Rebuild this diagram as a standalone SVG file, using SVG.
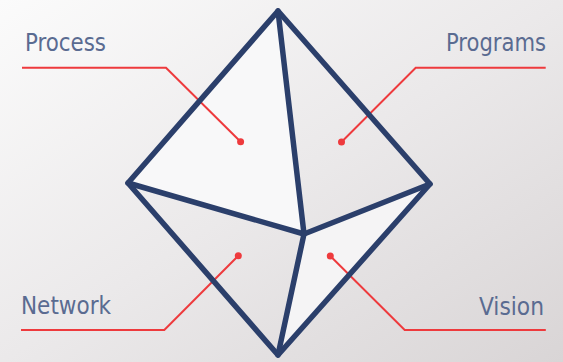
<svg xmlns="http://www.w3.org/2000/svg" width="563" height="362" viewBox="0 0 563 362">
<defs>
<linearGradient id="bg" x1="0" y1="0" x2="1" y2="1">
<stop offset="0" stop-color="#fbfbfb"/>
<stop offset="0.5" stop-color="#ebe9ea"/>
<stop offset="1" stop-color="#d9d5d6"/>
</linearGradient>
<style>
.edge{fill:none;stroke:#2b3f6b;stroke-width:5.5;stroke-linejoin:round;stroke-linecap:round}
.lead{fill:none;stroke:#ee3a3d;stroke-width:2}
.dot{fill:#ee3a3d}
.lbl{font-family:"Liberation Sans Narrow","DejaVu Sans Condensed","Liberation Sans",sans-serif;font-size:25px;fill:#5a6b91}
</style>
</defs>
<rect width="563" height="362" fill="url(#bg)"/>
<g id="faces">
<polygon points="278,11 128,183 304,234" fill="#f8f8f9"/>
<polygon points="304,234 430,184 278,355" fill="#f5f4f5"/>
</g>
<g id="connectors">
<polyline class="lead" points="22,67.7 166,67.7 240.6,141.7"/>
<polyline class="lead" points="545.7,67.7 415.7,67.7 341.5,142"/>
<polyline class="lead" points="21,330 164.3,330 238.3,255.7"/>
<polyline class="lead" points="545.8,330 404.7,330 330.3,256"/>
<circle class="dot" cx="240.6" cy="141.7" r="3.5"/>
<circle class="dot" cx="341.5" cy="142" r="3.5"/>
<circle class="dot" cx="238.3" cy="255.7" r="3.5"/>
<circle class="dot" cx="330.3" cy="256" r="3.5"/>
</g>
<g id="shape">
<polygon class="edge" points="278,11 430,184 278,355 128,183"/>
<polyline class="edge" points="278,11 304,234 278,355"/>
<polyline class="edge" points="128,183 304,234 430,184"/>
</g>
<g id="process"><text class="lbl" x="25" y="51" textLength="81" lengthAdjust="spacingAndGlyphs">Process</text></g>
<g id="programs"><text class="lbl" x="446" y="51" textLength="100" lengthAdjust="spacingAndGlyphs">Programs</text></g>
<g id="network"><text class="lbl" x="21" y="313.5" textLength="90" lengthAdjust="spacingAndGlyphs">Network</text></g>
<g id="vision"><text class="lbl" x="479" y="314.5" textLength="65" lengthAdjust="spacingAndGlyphs">Vision</text></g>
</svg>
